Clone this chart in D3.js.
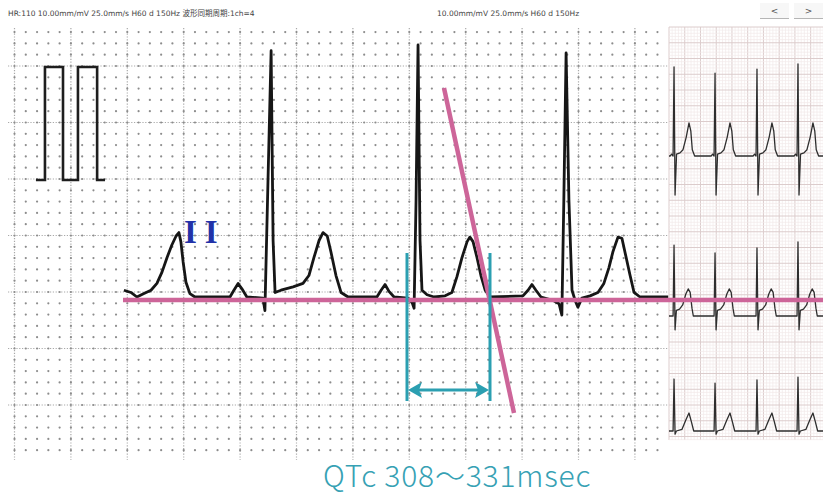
<!DOCTYPE html>
<html>
<head>
<meta charset="utf-8">
<script src="https://cdn.jsdelivr.net/npm/d3@7"></script>
<style>
  body { margin: 0; background: #fff; }
  svg { display: block; }
</style>
</head>
<body>
<svg id="ecg" width="823" height="495"></svg>
<script>
// lead II, [ms, mV]
const leadII = [
  [388,0.06],[413,0.04],[434,0.00],[459,0.03],[484,0.06],[505,0.12],[523,0.22],[541,0.35],
  [558,0.46],[573,0.54],[583,0.57],[590,0.49],[598,0.31],[608,0.13],[622,0.03],[640,0.00],
  [764,0.00],[778,0.06],[793,0.12],[807,0.07],[824,0.00],[881,-0.01],[888,-0.12],[899,1.04],
  [910,2.18],[917,0.50],[924,0.04],[945,0.06],[988,0.09],[1023,0.12],[1044,0.19],[1062,0.35],
  [1080,0.50],[1094,0.57],[1109,0.54],[1122,0.40],[1140,0.19],[1158,0.04],[1183,0.00],
  [1285,0.00],[1300,0.06],[1314,0.11],[1328,0.05],[1346,0.00],[1395,-0.01],[1410,-0.05],
  [1417,-0.10],[1424,0.86],[1431,2.23],[1438,0.50],[1445,0.06],[1463,0.02],[1488,0.00],
  [1527,0.01],[1551,0.04],[1569,0.18],[1587,0.35],[1605,0.49],[1615,0.53],[1626,0.49],
  [1640,0.35],[1654,0.19],[1669,0.06],[1686,0.00],[1803,0.01],[1821,0.06],[1835,0.11],
  [1849,0.06],[1867,0.00],[1909,-0.03],[1931,-0.06],[1941,-0.16],[1948,0.86],[1956,2.16],
  [1966,0.86],[1977,0.06],[1988,-0.03],[1998,-0.09],[2012,-0.01],[2041,0.01],[2069,0.04],
  [2090,0.12],[2108,0.26],[2122,0.40],[2140,0.53],[2154,0.52],[2168,0.36],[2183,0.19],
  [2197,0.04],[2218,0.00],[2318,0.00]
];

// 1 mV calibration pulse, [ms, mV]
const calPulse = [[76,0],[108,0],[108,1],[172,1],[172,0],[225,0],[225,1],[293,1],[293,0],[321,0]];

// right-hand strips: R times (s), beat shape [s from R, mV] ("R" = beat's R height)
const rightBeatTimes = [0.064, 0.585, 1.118, 1.639];
const strip1R = [2.83, 2.63, 2.76, 2.92];
const strip2R = [2.25, 2.00, 2.16, 2.35];
const strip3R = [1.65, 1.52, 1.62, 1.71];
const strip1Shape = [[-0.24,0],[-0.05,0],[-0.03,0.06],[-0.012,0],[0,"R"],[0.013,-1.24],[0.032,0.06],
  [0.076,0.10],[0.114,0.20],[0.155,0.60],[0.19,1.05],[0.213,0.80],[0.232,0.20],[0.262,0]];
const strip2Shape = [[-0.24,0],[-0.012,0],[0,"R"],[0.013,-0.44],[0.03,0.18],[0.07,0.22],[0.11,0.35],
  [0.15,0.70],[0.18,0.86],[0.205,0.75],[0.228,0.25],[0.245,0]];
const strip3Shape = [[-0.24,0],[-0.012,0],[0,"R"],[0.013,-0.10],[0.03,0],[0.1,0.05],[0.15,0.35],
  [0.19,0.57],[0.22,0.30],[0.25,0]];

// header texts
const headerLeft = "HR:110  10.00mm/mV 25.0mm/s H60 d 150Hz 波形同期周期:1ch=4";
const headerRight = "10.00mm/mV 25.0mm/s H60 d 150Hz";
const leadLabel = "II";
const qtcLabel = "QTc 308～331msec";

const svg = d3.select("#ecg");

// main paper: 25 mm/s, 10 mm/mV
const x = d3.scaleLinear().domain([0, 1000]).range([14.5, 296.5]);
const y = d3.scaleLinear().domain([0, 1]).range([297, 184]);
const yCal = d3.scaleLinear().domain([0, 1]).range([180, 67]);

// dotted grid of the main panel
const grid = svg.append("g").attr("class", "grid");
const colMs = d3.range(0, 2320, 40);
const rowMv = d3.range(-14, 24).map(k => k / 10);
const gy = v => y(v) - 5;
grid.selectAll("line.vmaj")
  .data(colMs.filter(d => d % 200 === 0))
  .enter().append("line")
  .attr("x1", d => x(d)).attr("x2", d => x(d))
  .attr("y1", 28).attr("y2", 460)
  .attr("stroke", "#a9a9a9").attr("stroke-width", 1.2)
  .attr("stroke-dasharray", "1.2,1.6");
grid.selectAll("line.hmaj")
  .data(rowMv.filter(d => Math.round(d * 10) % 5 === 0))
  .enter().append("line")
  .attr("x1", 8).attr("x2", 668)
  .attr("y1", d => gy(d)).attr("y2", d => gy(d))
  .attr("stroke", "#a9a9a9").attr("stroke-width", 1.2)
  .attr("stroke-dasharray", "1.2,1.6");
rowMv.forEach(r => {
  grid.selectAll(null)
    .data(colMs)
    .enter().append("circle")
    .attr("cx", d => x(d)).attr("cy", gy(r))
    .attr("r", 1.1).attr("fill", "#8c8c8c");
});

// right panel
const rx = d3.scaleLinear().domain([0, 1]).range([669, 747.7]);
const rpTop = 27, rpBottom = 440;
const rp = svg.append("g").attr("class", "right-panel");
rp.append("rect").attr("x", 669).attr("y", rpTop).attr("width", 154).attr("height", rpBottom - rpTop)
  .attr("fill", "#fff");
d3.range(0, 1.97, 0.04).forEach((t, i) => {
  rp.append("line").attr("x1", rx(t)).attr("x2", rx(t)).attr("y1", rpTop).attr("y2", rpBottom)
    .attr("stroke", i % 5 === 0 ? "#dccccc" : "#f2eaea").attr("stroke-width", i % 5 === 0 ? 1 : 0.7);
});
d3.range(0, 132).forEach(i => {
  const yy = rpTop + i * 3.15;
  rp.append("line").attr("x1", 669).attr("x2", 823).attr("y1", yy).attr("y2", yy)
    .attr("stroke", i % 5 === 0 ? "#dccccc" : "#f2eaea").attr("stroke-width", i % 5 === 0 ? 1 : 0.7);
});
svg.append("clipPath").attr("id", "rpclip")
  .append("rect").attr("x", 669).attr("y", rpTop).attr("width", 154).attr("height", rpBottom - rpTop);

function stripPoints(shape, rAmp) {
  const pts = [[0, 0]];
  rightBeatTimes.forEach((bt, i) => {
    shape.forEach(([dt, v]) => pts.push([bt + dt, v === "R" ? rAmp[i] : v]));
  });
  pts.push([2.0, 0]);
  return pts.filter(p => p[0] >= 0);
}
[[strip1Shape, strip1R, 156], [strip2Shape, strip2R, 316], [strip3Shape, strip3R, 431]].forEach(([shape, rAmp, base]) => {
  const ry = d3.scaleLinear().domain([0, 1]).range([base, base - 31.5]);
  rp.append("path")
    .datum(stripPoints(shape, rAmp))
    .attr("clip-path", "url(#rpclip)")
    .attr("d", d3.line().x(d => rx(d[0])).y(d => ry(d[1])))
    .attr("fill", "none").attr("stroke", "#2e2e2e").attr("stroke-width", 1.3)
    .attr("stroke-linejoin", "round");
});

// calibration pulse and lead II trace
svg.append("path")
  .datum(calPulse)
  .attr("d", d3.line().x(d => x(d[0])).y(d => yCal(d[1])))
  .attr("fill", "none").attr("stroke", "#1e1e1e").attr("stroke-width", 2.6);

svg.append("path")
  .datum(leadII)
  .attr("d", d3.line().x(d => x(d[0])).y(d => y(d[1])))
  .attr("fill", "none").attr("stroke", "#161616").attr("stroke-width", 2.8)
  .attr("stroke-linejoin", "round");

svg.append("text")
  .attr("x", 184).attr("y", 243)
  .attr("font-family", "Liberation Serif, serif").attr("font-weight", "bold")
  .attr("font-size", 33).attr("letter-spacing", 8)
  .attr("fill", "#2232a8")
  .text(leadLabel);

// header
svg.append("text").attr("x", 8).attr("y", 16)
  .attr("font-family", "DejaVu Sans, Noto Sans CJK JP").attr("font-size", 7.5)
  .attr("fill", "#444").text(headerLeft);
svg.append("text").attr("x", 437).attr("y", 16)
  .attr("font-family", "DejaVu Sans").attr("font-size", 7.5)
  .attr("fill", "#444").text(headerRight);
[["<", 760], [">", 794]].forEach(([g, bx]) => {
  svg.append("rect").attr("x", bx).attr("y", 3).attr("width", 29).attr("height", 15)
    .attr("fill", "#f7f7f7");
  svg.append("line").attr("x1", bx).attr("x2", bx + 29).attr("y1", 18.5).attr("y2", 18.5)
    .attr("stroke", "#b5b5b5");
  svg.append("text").attr("x", bx + 14.5).attr("y", 14).attr("text-anchor", "middle")
    .attr("font-family", "DejaVu Sans").attr("font-size", 9).attr("fill", "#555").text(g);
});

// QT annotation
const pink = "#cd6599", teal = "#2b9fb1";
svg.append("line").attr("x1", 123).attr("x2", 823).attr("y1", 300).attr("y2", 300)
  .attr("stroke", pink).attr("stroke-width", 4.5);
svg.append("line").attr("x1", 444).attr("x2", 514).attr("y1", 88).attr("y2", 413)
  .attr("stroke", pink).attr("stroke-width", 4.5);
[407, 490].forEach(xx => {
  svg.append("line").attr("x1", xx).attr("x2", xx).attr("y1", 253).attr("y2", 401)
    .attr("stroke", teal).attr("stroke-width", 3);
});
svg.append("line").attr("x1", 418).attr("x2", 479).attr("y1", 390).attr("y2", 390)
  .attr("stroke", teal).attr("stroke-width", 3);
svg.append("path").attr("d", "M408,390 L422,382 L419,390 L422,398 Z").attr("fill", teal);
svg.append("path").attr("d", "M489,390 L475,382 L478,390 L475,398 Z").attr("fill", teal);

svg.append("text")
  .attr("x", 323).attr("y", 487)
  .attr("font-family", "Noto Sans CJK JP, Noto Sans").attr("font-weight", 300)
  .attr("font-size", 30).attr("letter-spacing", 0.8).attr("fill", "#36a1b4")
  .text(qtcLabel);
</script>
</body>
</html>
